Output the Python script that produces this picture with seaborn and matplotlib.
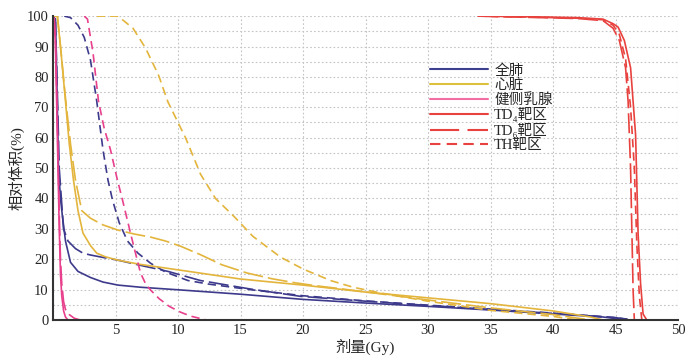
import numpy as np
import pandas as pd
import matplotlib
matplotlib.use("Agg")
import matplotlib.pyplot as plt
from matplotlib.lines import Line2D
from matplotlib.ticker import MultipleLocator
import seaborn as sns

# -------------------------------
# DVH data (dose Gy, volume %)
# -------------------------------
lung_td1_x = [0, 0.2, 0.3, 0.44, 0.6, 0.76, 1.0, 1.4, 2.0, 3.0, 4.0, 5.2, 7, 10.2, 15, 20, 25, 30, 35, 40, 44, 46]
lung_td1_y = [100, 99, 80, 50, 40, 34, 26, 19, 16, 14, 12.5, 11.5, 10.8, 9.9, 8.5, 6.8, 5.6, 4.5, 3.3, 2, 1, 0]

lung_td2_x = [0, 0.2, 0.35, 0.5, 0.84, 1.2, 1.8, 2.4, 3, 4, 5.2, 7, 9.2, 11.8, 15.8, 19.8, 25, 30, 35, 40, 45, 46.3]
lung_td2_y = [100, 98, 75, 50, 30, 26, 23.5, 22, 21.4, 20.6, 19.7, 18, 16, 13, 10.2, 7.8, 6.2, 4.8, 3.5, 2.2, 0.8, 0]

lung_th_x = [0.9, 1.4, 2, 2.5, 3, 3.5, 4, 4.4, 4.76, 5.3, 5.96, 6.8, 7.8, 9, 10.8, 12.5, 15.8, 20, 25, 30, 35, 40, 45, 46.5]
lung_th_y = [100, 99.5, 97, 93, 85.5, 72, 56, 46, 39.5, 32, 26, 22, 18.7, 15.8, 13, 11.8, 10, 8, 6.3, 4.9, 3.6, 2.3, 0.8, 0]

heart_td1_x = [0, 0.35, 0.6, 1.0, 1.3, 1.64, 2.0, 2.4, 3.0, 3.5, 4.2, 5.2, 7, 10.2, 15, 20, 25, 30, 35, 40, 43, 44]
heart_td1_y = [100, 100, 90, 72, 58, 46, 36, 28.6, 24.5, 22, 20.8, 19.7, 18.3, 16.4, 13.5, 11.5, 9.2, 7.3, 5.4, 3, 1, 0]

heart_td2_x = [0, 0.35, 0.6, 1.0, 1.4, 1.8, 2.3, 3.0, 4, 5.2, 6.5, 7.8, 9, 10.2, 11.8, 13.5, 15.5, 17.5, 19.3, 21, 23.2, 27, 30, 35, 40, 43]
heart_td2_y = [100, 100, 90, 73, 58, 46, 36, 33.5, 31.3, 29.6, 28.3, 27.3, 26, 24.3, 21.5, 18.2, 15.5, 13.6, 12.3, 11.3, 10.2, 8.2, 6.6, 4, 1.8, 0]

heart_th_x = [3.5, 5.2, 6.4, 7.4, 8.44, 9.2, 10, 10.6, 11.8, 13, 14.5, 16, 18.2, 20, 22.2, 24, 26.2, 30, 35, 40, 42]
heart_th_y = [100, 100, 96, 89.5, 80.6, 71.7, 65, 60, 48, 40, 34, 27.5, 20.7, 16.8, 13, 10.8, 8.9, 6.2, 3.2, 1.2, 0]

breast_td1_x = [0, 0.1, 0.2, 0.3, 0.4, 0.5, 0.6, 0.7, 0.85, 1.0, 1.2]
breast_td1_y = [100, 99, 90, 70, 50, 30, 15, 8, 3, 1, 0]

breast_td2_x = [0, 0.1, 0.2, 0.3, 0.4, 0.5, 0.6, 0.7, 0.85, 1.0, 1.3, 1.7, 2.2]
breast_td2_y = [100, 99, 92, 75, 55, 35, 20, 12, 6, 3.5, 1.8, 0.6, 0]

breast_th_x = [2.5, 2.76, 3.2, 3.64, 4.1, 4.6, 5.1, 5.56, 6.2, 6.6, 7, 7.4, 7.8, 8.5, 9.3, 10.2, 11, 12, 12.3]
breast_th_y = [100, 99, 88, 72, 63, 56, 47, 39.5, 28.6, 22, 15.5, 12, 9.9, 7, 4.5, 2.6, 1.3, 0.3, 0]

ptv_td1_x = [34, 38, 42, 44, 44.8, 45.2, 45.7, 46.2, 46.4, 46.6, 46.7, 46.8, 47, 47.2, 47.5]
ptv_td1_y = [100, 99.8, 99.5, 99, 97.5, 96.4, 92, 83, 72, 61, 45, 28.6, 12, 2, 0]

ptv_td2_x = [34, 38, 42, 44, 44.8, 45.3, 45.8, 46.0, 46.2, 46.3, 46.4, 46.5]
ptv_td2_y = [100, 99.6, 99.2, 98.5, 96, 92, 83, 72, 50, 30, 10, 0]

ptv_th_x = [34, 38, 42, 44, 44.8, 45.3, 45.8, 46.2, 46.5, 46.7, 46.9, 47.1]
ptv_th_y = [100, 99.7, 99.3, 98.8, 97, 94, 86, 70, 50, 25, 8, 0]

organs = ["全肺", "心脏", "健侧乳腺", "靶区"]
plans = ["TD1", "TD2", "TH"]
plan_labels = ["TD₄靶区", "TD₆靶区", "TH靶区"]

curves = {
    ("全肺", "TD1"): (lung_td1_x, lung_td1_y),
    ("全肺", "TD2"): (lung_td2_x, lung_td2_y),
    ("全肺", "TH"): (lung_th_x, lung_th_y),
    ("心脏", "TD1"): (heart_td1_x, heart_td1_y),
    ("心脏", "TD2"): (heart_td2_x, heart_td2_y),
    ("心脏", "TH"): (heart_th_x, heart_th_y),
    ("健侧乳腺", "TD1"): (breast_td1_x, breast_td1_y),
    ("健侧乳腺", "TD2"): (breast_td2_x, breast_td2_y),
    ("健侧乳腺", "TH"): (breast_th_x, breast_th_y),
    ("靶区", "TD1"): (ptv_td1_x, ptv_td1_y),
    ("靶区", "TD2"): (ptv_td2_x, ptv_td2_y),
    ("靶区", "TH"): (ptv_th_x, ptv_th_y),
}

rows = []
for (organ, plan), (xs, ys) in curves.items():
    for x, y in zip(xs, ys):
        rows.append({"dose": x, "volume": y, "organ": organ, "plan": plan, "curve": organ + plan})
df = pd.DataFrame(rows)

# -------------------------------
# Style
# -------------------------------
sns.set_theme(style="white")
plt.rcParams["font.family"] = ["Liberation Serif", "Noto Sans CJK SC", "DejaVu Sans"]

palette = {"全肺": "#3d3a8c", "心脏": "#e3b53c", "健侧乳腺": "#e8408c", "靶区": "#e8423f"}
dashes = {"TD1": "", "TD2": (12, 3), "TH": (5, 3)}

fig = plt.figure(figsize=(7, 3.58), dpi=100)
ax = fig.add_axes([0.0757, 0.106, 0.893, 0.849])

sns.lineplot(data=df, x="dose", y="volume", hue="organ", style="plan", units="curve",
             estimator=None, sort=False, palette=palette, dashes=dashes,
             linewidth=1.2, ax=ax, legend=False)

ax.set_xlim(0, 50)
ax.set_ylim(0, 100)
ax.set_xticks(range(5, 51, 5))
ax.set_yticks(range(0, 101, 10))
ax.xaxis.set_minor_locator(MultipleLocator(5))
ax.yaxis.set_minor_locator(MultipleLocator(5))
ax.grid(True, which="both", linestyle=(0, (1.5, 2)), color="#c4c4c4", linewidth=0.8)
ax.set_axisbelow(True)
ax.tick_params(axis="both", which="both", length=0, labelsize=10.5, pad=3)

for side in ["top", "right"]:
    ax.spines[side].set_visible(False)
for side in ["left", "bottom"]:
    ax.spines[side].set_color("#333333")
    ax.spines[side].set_linewidth(1.5)

ax.set_xlabel("剂量(Gy)", fontsize=11, labelpad=1)
ax.set_ylabel("相对体积(%)", fontsize=11, labelpad=2)

# -------------------------------
# Legend
# -------------------------------
handles = [
    Line2D([0], [0], color="#3d3f8f", lw=1.5),
    Line2D([0], [0], color="#dcc23c", lw=1.5),
    Line2D([0], [0], color="#f06ea4", lw=1.5),
    Line2D([0], [0], color="#e8423f", lw=1.5),
    Line2D([0], [0], color="#e8423f", lw=1.5, dashes=(14, 4)),
    Line2D([0], [0], color="#e8423f", lw=1.5, dashes=(5, 3)),
]
labels = ["全肺", "心脏", "健侧乳腺"] + plan_labels
fig.legend(handles, labels, loc="upper left", bbox_to_anchor=(430 / 700, 1 - 64 / 358),
           frameon=False, fontsize=10.5, handlelength=4.0, handletextpad=0.4,
           labelspacing=0.05, borderpad=0, borderaxespad=0)

fig.savefig("out.png", dpi=100)
